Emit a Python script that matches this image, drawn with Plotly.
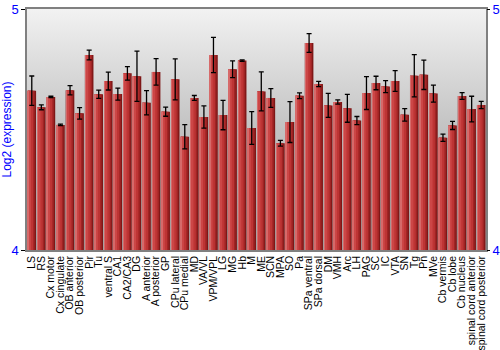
import plotly.graph_objects as go

categories = ["LS", "RS", "Cx motor", "Cx cingulate", "OB anterior", "OB posterior", "Pir", "Tu",
              "ventral S", "CA1", "CA2/CA3", "DG", "A anterior", "A posterior", "GP",
              "CPu lateral", "CPu medial", "MD", "VA/VL", "VPM/VPL", "LG", "MG", "Hb", "M", "ME",
              "SCN", "MPA", "SO", "Pa", "SPa ventral", "SPa dorsal", "DM",
              "VMH", "Arc", "LH", "PAG", "SC", "IC", "VTA", "SN", "Tg", "Pn", "MVe",
              "Cb vermis", "Cb lobe", "Cb nucleus", "spinal cord anterior", "spinal cord posterior"]

values = [4.661, 4.592, 4.635, 4.519, 4.663, 4.567, 4.809, 4.646,
          4.701, 4.647, 4.733, 4.721, 4.611, 4.739, 4.574,
          4.708, 4.470, 4.631, 4.552, 4.809, 4.560, 4.750, 4.786, 4.506, 4.658,
          4.631, 4.443, 4.531, 4.640, 4.859, 4.689, 4.600,
          4.614, 4.588, 4.537, 4.651, 4.693, 4.678, 4.701, 4.561, 4.723, 4.727, 4.649,
          4.466, 4.517, 4.639, 4.585, 4.602]

errors = [0.061, 0.010, 0.003, 0.003, 0.019, 0.024, 0.020, 0.017,
          0.037, 0.025, 0.028, 0.104, 0.050, 0.055, 0.019,
          0.085, 0.050, 0.010, 0.046, 0.073, 0.061, 0.035, 0.003, 0.068, 0.081,
          0.039, 0.012, 0.085, 0.012, 0.039, 0.011, 0.050,
          0.009, 0.058, 0.017, 0.068, 0.028, 0.025, 0.043, 0.026, 0.088, 0.061, 0.035,
          0.015, 0.017, 0.014, 0.053, 0.015]

y_ticks = [4, 5]
y_range = [4, 5]
n = len(categories)
xs = list(range(n))
bases = [y_range[0]] * n
heights = [v - y_range[0] for v in values]

fig = go.Figure()

# gradient background on the base y axis (drawn beneath the overlaying axis)
fig.add_trace(go.Scatter(
    x=[-0.5, n - 0.5, n - 0.5, -0.5, -0.5], y=[4, 4, 5, 5, 4],
    mode="lines", line=dict(width=0), fill="toself",
    fillgradient=dict(type="vertical",
                      colorscale=[[0, "#a8a8a8"], [0.5, "#c2c2c2"], [1, "#f2f2f2"]]),
    hoverinfo="skip", showlegend=False))

# cylinder-like bar layers on the overlaying y2 axis
layers = [
    (-0.45, 0.90, "#7e1717"),
    (-0.43, 0.74, "#a02424"),
    (-0.40, 0.55, "#bd3434"),
    (-0.37, 0.28, "#cc4646"),
    (-0.42, 0.06, "#d66a6a"),
]
for off, w, col in layers:
    fig.add_trace(go.Bar(
        x=xs, y=heights, base=bases, width=[w] * n, offset=off, yaxis="y2",
        marker=dict(color=col, line=dict(width=0)),
        hoverinfo="skip", showlegend=False))

# error bars (transparent bar carrying them)
fig.add_trace(go.Bar(
    x=xs, y=heights, base=bases, width=[0.9] * n, offset=-0.45, yaxis="y2",
    marker=dict(color="rgba(0,0,0,0)", line=dict(width=0)),
    error_y=dict(type="data", array=errors, visible=True, color="black",
                 thickness=1.3, width=2.5),
    showlegend=False))

fig.update_layout(
    width=500, height=350,
    margin=dict(l=27, r=14, t=9, b=100),
    paper_bgcolor="white", plot_bgcolor="white",
    barmode="overlay",
    font=dict(family="Arial, Liberation Sans, sans-serif", color="black"),
    xaxis=dict(range=[-0.5, n - 0.5], tickmode="array", tickvals=xs, ticktext=categories,
               tickangle=-90, tickfont=dict(size=10.5, color="black"), automargin=False,
               showgrid=False, zeroline=False, ticks="",
               showline=True, linecolor="#808080", linewidth=1.5, mirror=True),
    yaxis=dict(range=y_range, tickvals=y_ticks, ticks="outside", ticklen=4,
               tickcolor="black", tickfont=dict(size=13, color="#0000ff"),
               showgrid=False, zeroline=False, automargin=False,
               showline=True, linecolor="#808080", linewidth=1.5, mirror=True,
               title=dict(text="Log2 (expression)", font=dict(size=12, color="#0000ff"),
                          standoff=4)),
    yaxis2=dict(range=y_range, tickvals=y_ticks, overlaying="y", side="right",
                ticks="outside", ticklen=3, tickcolor="black", automargin=False,
                tickfont=dict(size=13, color="#0000ff"),
                showgrid=False, zeroline=False, showline=False),
)

fig.write_html("out.html")
